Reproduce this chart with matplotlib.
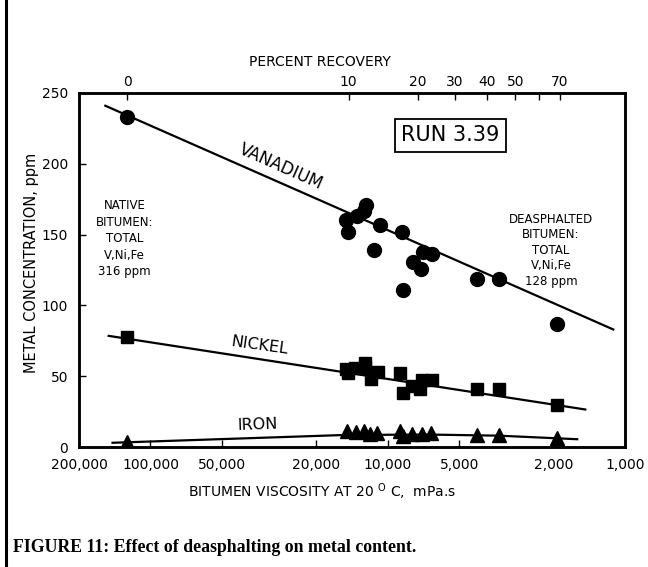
import matplotlib
matplotlib.use("Agg")
import matplotlib.pyplot as plt
from matplotlib.lines import Line2D
from matplotlib.ticker import FixedLocator, FixedFormatter, NullLocator

# --- data (viscosity mPa.s, concentration ppm) ---
v_visc = [125000, 15060, 14680, 13460, 12290, 12610, 10810, 11450, 8670,
          8620, 7110, 6490, 7830, 7220, 4200, 3410, 1930]
v_ppm = [233, 160, 152, 163, 171, 167, 157, 139, 152,
         111, 138, 136, 131, 126, 119, 119, 87]

ni_visc = [125000, 14950, 14680, 13740, 12500, 12500, 11020, 11740, 8860,
           8620, 7900, 7300, 7160, 6490, 4200, 3410, 1930]
ni_ppm = [78, 55, 52, 56, 59, 56, 53, 48, 52, 38, 43, 41, 47, 47, 41, 41, 30]

fe_visc = [125000, 14850, 13580, 12600, 11900, 11100, 8860, 8620, 7900,
           7160, 6560, 4200, 3410, 1930]
fe_ppm = [3.5, 11.5, 10.5, 11.5, 9.5, 10, 11, 8, 9, 9, 10, 8.5, 8.5, 6.5]

# fitted lines
v_fit_visc = [155000, 1120]
v_fit_ppm = [241, 83]
ni_fit_visc = [150000, 1470]
ni_fit_ppm = [78.5, 26.5]
fe_fit_visc = [144500, 15200, 6670, 3380, 1590]
fe_fit_ppm = [3, 8.5, 8.8, 8, 5.5]

visc_ticks = [200000, 100000, 50000, 20000, 10000, 5000, 2000, 1000]
visc_labels = ["200,000", "100,000", "50,000", "20,000", "10,000", "5,000", "2,000", "1,000"]

# top axis: percent recovery located on the viscosity scale
recovery_visc = [125000, 14600, 7480, 5230, 3800, 2900, 2300, 1880]
recovery_labels = ["0", "10", "20", "30", "40", "50", "", "70"]

plt.rcParams['font.family'] = ['DejaVu Sans']

fig = plt.figure(figsize=(6.48, 5.67), dpi=100)
ax = fig.add_axes([0.122, 0.2116, 0.8425, 0.6244])

ax.set_xscale("log")
ax.set_xlim(200000, 1000)
ax.set_ylim(0, 250)

lw_fit = 1.6
ax.plot(v_fit_visc, v_fit_ppm, color="black", lw=lw_fit)
ax.plot(ni_fit_visc, ni_fit_ppm, color="black", lw=lw_fit)
ax.plot(fe_fit_visc, fe_fit_ppm, color="black", lw=lw_fit)

ax.plot(v_visc, v_ppm, "o", color="black", ms=10, ls="none")
ax.plot(ni_visc, ni_ppm, "s", color="black", ms=9, ls="none")
ax.plot(fe_visc, fe_ppm, "^", color="black", ms=10, ls="none")

for s in ax.spines.values():
    s.set_linewidth(1.8)

ax.xaxis.set_major_locator(FixedLocator(visc_ticks))
ax.xaxis.set_major_formatter(FixedFormatter(visc_labels))
ax.xaxis.set_minor_locator(NullLocator())
ax.set_yticks([0, 50, 100, 150, 200, 250])
ax.tick_params(axis="x", direction="in", length=5, width=1, labelsize=10, pad=8)
ax.tick_params(axis="y", direction="in", length=5, width=1, labelsize=10, pad=8)

top = ax.twiny()
top.set_xscale("log")
top.set_xlim(ax.get_xlim())
top.xaxis.set_major_locator(FixedLocator(recovery_visc))
top.xaxis.set_major_formatter(FixedFormatter(recovery_labels))
top.xaxis.set_minor_locator(NullLocator())
top.tick_params(axis="x", direction="in", length=5, width=1, labelsize=10, pad=3)
for s in top.spines.values():
    s.set_linewidth(1.8)

# labels inside the plot
ax.text(28200, 198, "VANADIUM", rotation=-24, fontsize=12, ha="center", va="center")
ax.text(34800, 72, "NICKEL", rotation=-8, fontsize=11.5, ha="center", va="center")
ax.text(35500, 16, "IRON", rotation=2, fontsize=11.5, ha="center", va="center")
ax.text(5430, 220, "RUN 3.39", fontsize=15, ha="center", va="center",
        bbox=dict(boxstyle="square,pad=0.3", fc="white", ec="black", lw=1.3))
ax.text(128500, 147, "NATIVE\nBITUMEN:\nTOTAL\nV,Ni,Fe\n316 ppm",
        fontsize=8.5, ha="center", va="center", linespacing=1.35)
ax.text(2050, 139, "DEASPHALTED\nBITUMEN:\nTOTAL\nV,Ni,Fe\n128 ppm",
        fontsize=8.5, ha="center", va="center", linespacing=1.25)

# axis titles and caption
fig.text(0.494, 0.891, "PERCENT RECOVERY", fontsize=10, ha="center", va="center")
fig.text(0.497, 0.132, r"BITUMEN VISCOSITY AT 20 $^{\mathrm{O}}$ C,  mPa.s",
         fontsize=10, ha="center", va="center")
fig.text(0.048, 0.536, "METAL CONCENTRATION, ppm", fontsize=10.5,
         rotation=90, ha="center", va="center")
fig.text(0.02, 0.035, "FIGURE 11: Effect of deasphalting on metal content.",
         fontsize=12.8, fontweight="bold", family="Liberation Serif",
         ha="left", va="center")

# frame line on the left edge of the figure
fig.add_artist(Line2D([0.009, 0.009], [0.0, 1.0], color="black", lw=2.2))

fig.savefig("out.png", dpi=100)
